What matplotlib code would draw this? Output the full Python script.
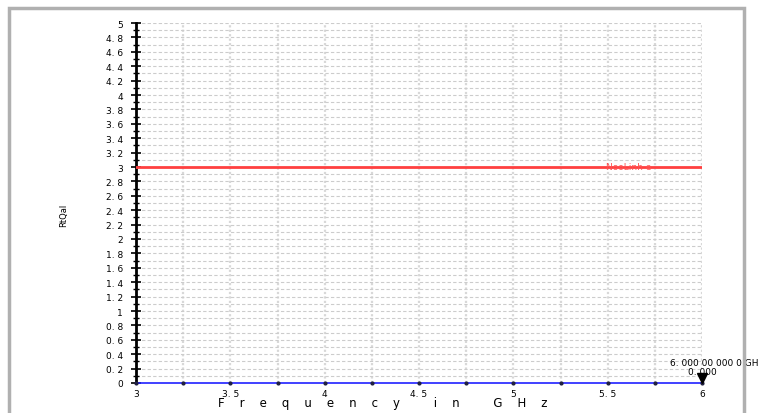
import matplotlib
matplotlib.use("Agg")
import matplotlib.pyplot as plt
from matplotlib.patches import Rectangle

# data
freq_ghz = [3.0, 3.25, 3.5, 3.75, 4.0, 4.25, 4.5, 4.75, 5.0, 5.25, 5.5, 5.75, 6.0]
trace_vals = [0, 0, 0, 0, 0, 0, 0, 0, 0, 0, 0, 0, 0]
limit_freq = [3.0, 6.0]
limit_vals = [3.0, 3.0]
limit_name = "NooLinh e"
marker_freq = 6.0
marker_val = 0.0
marker_text = "6. 000 00 000 0 GH"
marker_val_text = "0. 000"
x_ticks = [3, 3.5, 4, 4.5, 5, 5.5, 6]
x_tick_labels = ["3", "3. 5", "4", "4. 5", "5", "5. 5", "6"]
y_ticks = [i * 0.2 for i in range(26)]
y_tick_labels = ["0", "0. 2", "0. 4", "0. 6", "0. 8", "1", "1. 2", "1. 4", "1. 6", "1. 8",
                 "2", "2. 2", "2. 4", "2. 6", "2. 8", "3", "3. 2", "3. 4", "3. 6", "3. 8",
                 "4", "4. 2", "4. 4", "4. 6", "4. 8", "5"]

fig = plt.figure(figsize=(7.61, 4.14), dpi=100)

# gray frame around the plot window
fig.patches.append(Rectangle((9 / 761, -0.05), 735 / 761, 1.05 - 9 / 414,
                             transform=fig.transFigure, fill=False,
                             edgecolor="#b0b0b0", linewidth=2.5))

ax = fig.add_axes([136 / 761, 1 - 384 / 414, 566 / 761, 360 / 414])
ax.set_xlim(3, 6)
ax.set_ylim(0, 5)

# grid
for f in freq_ghz[1:]:
    ax.axvline(f, color="#d8d8d8", linestyle=(0, (1, 1)), linewidth=1.6, zorder=1)
for i in range(1, 51):
    ax.axhline(i * 0.1, color="#cccccc", linestyle=(0, (3, 2)), linewidth=0.8, zorder=1)

ax.plot(limit_freq, limit_vals, color="#ff4040", linewidth=2, zorder=3)
ax.text(5.49, 3.0, limit_name, color="#ff5050", fontsize=6.5, ha="left", va="center")

ax.plot(freq_ghz, trace_vals, color="#2020ff", linewidth=1.2, marker="o",
        markersize=2, markerfacecolor="#202040", markeredgecolor="#202040",
        zorder=4, clip_on=False)

ax.plot([marker_freq], [marker_val + 0.07], marker="v", color="black",
        markersize=7, clip_on=False, zorder=5)
ax.text(marker_freq + 0.3, marker_val + 0.28, marker_text, fontsize=6.5,
        ha="right", va="center", clip_on=False)
ax.text(marker_freq, marker_val + 0.16, marker_val_text, fontsize=6.5,
        ha="center", va="center", clip_on=False)

for s in ["top", "right", "bottom"]:
    ax.spines[s].set_visible(False)
ax.spines["left"].set_linewidth(2)

ax.set_xticks(x_ticks)
ax.set_xticklabels(x_tick_labels, fontsize=6.5)
ax.tick_params(axis="x", length=0, pad=4)
ax.set_yticks(y_ticks)
ax.set_yticklabels(y_tick_labels, fontsize=6.5)
ax.set_yticks([i * 0.2 + 0.1 for i in range(25)], minor=True)
ax.tick_params(axis="y", which="major", direction="inout", length=7, width=1.2, pad=6)
ax.tick_params(axis="y", which="minor", direction="inout", length=5, width=1.0)

xlabel = "    ".join("Frequency") + "         " + "    ".join("in") + "         " + "    ".join("GHz")
fig.text(383 / 761, 1 - 404 / 414, xlabel, fontsize=8.5, ha="center", va="center")
fig.text(64 / 761, 1 - 215 / 414, "RtQal", rotation=90, fontsize=6,
         ha="center", va="center")

fig.savefig("out.png", dpi=100)
